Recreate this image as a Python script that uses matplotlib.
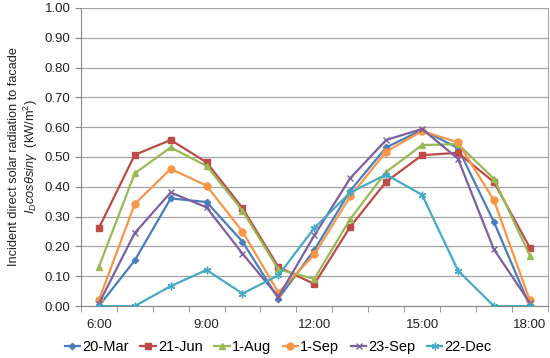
import numpy as np
import matplotlib
matplotlib.use("Agg")
import matplotlib.pyplot as plt

plt.rcParams['font.family'] = ['Liberation Sans', 'DejaVu Sans']
plt.rcParams['mathtext.fontset'] = 'custom'
plt.rcParams['mathtext.rm'] = 'Liberation Sans'
plt.rcParams['mathtext.it'] = 'Liberation Sans:italic'

hours = list(range(6, 19))
tick_hours = [6, 9, 12, 15, 18]
tick_labels = ['6:00', '9:00', '12:00', '15:00', '18:00']

mar20 = [0.00, 0.153, 0.361, 0.349, 0.216, 0.025, 0.188, 0.387, 0.532, 0.591, 0.530, 0.282, 0.00]
jun21 = [0.261, 0.507, 0.557, 0.482, 0.329, 0.131, 0.074, 0.266, 0.417, 0.506, 0.514, 0.416, 0.196]
aug1 = [0.131, 0.445, 0.532, 0.470, 0.320, 0.123, 0.091, 0.292, 0.450, 0.540, 0.543, 0.427, 0.169]
sep1 = [0.019, 0.342, 0.460, 0.404, 0.250, 0.045, 0.173, 0.368, 0.518, 0.587, 0.549, 0.355, 0.019]
sep23 = [0.008, 0.245, 0.381, 0.331, 0.176, 0.031, 0.237, 0.429, 0.557, 0.594, 0.494, 0.190, 0.011]
dec22 = [0.00, 0.00, 0.067, 0.121, 0.042, 0.103, 0.262, 0.381, 0.441, 0.373, 0.119, 0.00, 0.00]

names = ['20-Mar', '21-Jun', '1-Aug', '1-Sep', '23-Sep', '22-Dec']
series = [mar20, jun21, aug1, sep1, sep23, dec22]
colors = ['#4A7EBB', '#BE4B48', '#98B954', '#F79646', '#7D60A0', '#46AAC5']
markers = ['D', 's', '^', 'o', 'x', (6, 2, 0)]
msizes = [3.2, 5.0, 5.0, 5.0, 5.0, 5.5]

fig = plt.figure(figsize=(5.5, 3.58), dpi=100)
ax = fig.add_axes([0.147, 0.145, 0.849, 0.833])

for vals, name, c, m, ms in zip(series, names, colors, markers, msizes):
    ax.plot(hours, vals, color=c, marker=m, markersize=ms, linewidth=1.6,
            markeredgewidth=1.0, label=name, zorder=3)

ax.set_xlim(5.5, 18.5)
ax.set_ylim(0, 1.0)
ax.set_yticks(np.arange(0, 1.01, 0.1))
ax.set_yticklabels(['%.2f' % v for v in np.arange(0, 1.01, 0.1)])
ax.set_xticks(tick_hours)
ax.set_xticklabels(tick_labels)
ax.set_xticks(np.arange(5.5, 18.6, 1), minor=True)
ax.tick_params(axis='x', which='major', length=0, labelsize=9.5, pad=9, colors='#222222')
ax.tick_params(axis='x', which='minor', length=4, color='#888888')
ax.tick_params(axis='y', length=4, color='#888888', labelsize=9.5, colors='#222222')
ax.yaxis.grid(True, color='#A6A6A6', linewidth=0.9)
ax.set_axisbelow(True)
ax.spines['top'].set_visible(False)
ax.spines['left'].set_color('#888888')
ax.spines['bottom'].set_color('#888888')
ax.spines['right'].set_color('#A6A6A6')

ax.set_ylabel('Incident direct solar radiation to facade\n'
              r'$I_D cos\theta sin\gamma$  (kW/m$^2$)', fontsize=9.2, color='#222222',
              linespacing=1.1)
ax.yaxis.set_label_coords(-0.088, 0.5)

fig.legend(loc='lower center', bbox_to_anchor=(0.506, -0.025), ncol=6, frameon=False,
           fontsize=10.5, handlelength=1.05, handletextpad=0.15, columnspacing=0.8)

fig.savefig('out.png', dpi=100)
